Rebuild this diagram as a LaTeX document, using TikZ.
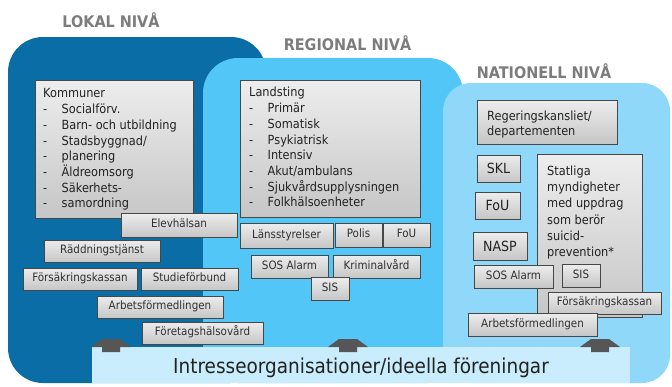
\documentclass[tikz,border=0pt]{standalone}
\usepackage{fontspec}
\setmainfont{DejaVu Sans}[FakeStretch=0.9]
\usetikzlibrary{shadows}
\definecolor{lokalc}{HTML}{0B6DA6}
\definecolor{regc}{HTML}{52C6F6}
\definecolor{natc}{HTML}{8FD8F9}
\definecolor{bannerc}{HTML}{C9EDFC}
\definecolor{boxtop}{HTML}{EDEDED}
\definecolor{boxbot}{HTML}{C6C6C6}
\definecolor{titlec}{HTML}{7C7C7C}
\definecolor{listc}{HTML}{222222}
\definecolor{smallc}{HTML}{303030}
\definecolor{arrowc}{HTML}{565656}
\tikzset{
  gbase/.style={draw=black!72, line width=0.7pt, top color=boxtop, bottom color=boxbot,
    drop shadow={shadow xshift=1.3pt, shadow yshift=-1.3pt, opacity=0.45}, inner sep=0pt},
  small/.style={gbase, font=\fontsize{11.5}{13}\selectfont, text=smallc, text height=8.3pt, text depth=2.4pt},
  mid/.style={font=\fontsize{14}{16}\selectfont, text=listc, text height=10pt, text depth=0pt},
  listtxt/.style={anchor=north west, inner sep=0pt, align=left, text=listc, font=\fontsize{12.6}{15.7}\selectfont},
  leveltitle/.style={anchor=base, inner sep=0pt, text=titlec, font=\bfseries\fontsize{16}{18}\selectfont},
}
\newcommand{\gbox}[7][]{\node[small,#1,minimum width=#5pt-#3pt,minimum height=#6pt-#4pt] (#2) at ({(#3+#5)/2},{(#4+#6)/2}) {#7};}
\newcommand{\di}[1]{\makebox[18.5pt][l]{-}#1}
\begin{document}
\begin{tikzpicture}[x=1pt,y=-1pt]
\useasboundingbox (0,0) rectangle (672,386);
% panels
\fill[lokalc, rounded corners=35pt] (8,37) rectangle (266,383);
\fill[regc, rounded corners=35pt] (203,58) rectangle (463,383);
\fill[natc, rounded corners=28pt] (443,83) rectangle (670,383);
% titles
\node[leveltitle] (tlokal) at (111,27) {LOKAL NIVÅ};
\node[leveltitle] (tregional) at (347.5,50) {REGIONAL NIVÅ};
\node[leveltitle] (tnationell) at (544,78.5) {NATIONELL NIVÅ};
% lokal
\gbox{kommuner}{35}{80}{193}{218}{}
\node[listtxt] (kommunertxt) at (43,88.6) {Kommuner\\ \di{Socialförv.}\\ \di{Barn- och utbildning}\\ \di{Stadsbyggnad/}\\ \di{planering}\\ \di{Äldreomsorg}\\ \di{Säkerhets-}\\ \di{samordning}};
% regional
\gbox{landsting}{240}{80}{420}{217}{}
\node[listtxt] (landstingtxt) at (249,87.2) {Landsting\\ \di{Primär}\\ \di{Somatisk}\\ \di{Psykiatrisk}\\ \di{Intensiv}\\ \di{Akut/ambulans}\\ \di{Sjukvårdsupplysningen}\\ \di{Folkhälsoenheter}};
% nationell
\gbox{regering}{477}{100}{617}{144}{}
\node[listtxt, font=\fontsize{12.6}{14.8}\selectfont] (regeringtxt) at (487,111) {Regeringskansliet/\\departementen};
\gbox[mid]{skl}{477}{155}{520}{182}{SKL}
\gbox[mid]{foun}{475}{192}{520}{219}{FoU}
\gbox[mid]{nasp}{473}{232}{527}{260}{NASP}
\gbox{statliga}{537}{154}{642}{317}{}
\node[listtxt, font=\fontsize{12.6}{16.3}\selectfont] (statligatxt) at (547,165.5) {Statliga\\myndigheter\\med uppdrag\\som berör\\suicid-\\prevention*};
\gbox{sosn}{474}{265}{553}{288}{SOS Alarm}
\gbox{sisn}{562}{264}{600}{287}{SIS}
\gbox{fkn}{548}{292}{661}{314}{Försäkringskassan}
\gbox{afn}{468}{313}{597}{336}{Arbetsförmedlingen}
% regional small
\gbox{lans}{240}{223}{333}{248}{Länsstyrelser}
\gbox{polis}{335}{223}{382}{247}{Polis}
\gbox{four}{383}{223}{430}{247}{FoU}
\gbox{sosr}{251}{255}{328}{278}{SOS Alarm}
\gbox{krim}{333}{255}{420}{278}{Kriminalvård}
\gbox{sisr}{311}{277}{349}{300}{SIS}
% lokal small
\gbox{elev}{121}{213}{237}{237}{Elevhälsan}
\gbox{radd}{44}{240}{160}{262}{Räddningstjänst}
\gbox{fkl}{23}{268}{137}{290}{Försäkringskassan}
\gbox{studie}{141}{268}{238}{290}{Studieförbund}
\gbox{afl}{97}{296}{223}{318}{Arbetsförmedlingen}
\gbox{foretag}{142}{322}{263}{344}{Företagshälsovård}
% banner
\node[fill=bannerc, inner sep=0pt, minimum width=538pt, minimum height=36pt, anchor=north west] (banner) at (92,347) {};
\node[anchor=base, inner sep=0pt, text=listc, font=\fontsize{20.5}{24}\selectfont] (bannertxt) at (361,373) {Intresseorganisationer/ideella föreningar};
% arrows
\foreach \cx/\nm in {111/a1,348/a2,600/a3}{
  \coordinate (\nm) at (\cx,339);
  \fill[arrowc] ([xshift=-9pt]\nm) -- ([xshift=9pt]\nm) -- ([shift={(20,8)}]\nm) -- ([shift={(9,8)}]\nm)
     -- ([shift={(9,13)}]\nm) -- ([shift={(-9,13)}]\nm) -- ([shift={(-9,8)}]\nm) -- ([shift={(-20,8)}]\nm) -- cycle;
}
\end{tikzpicture}
\end{document}
